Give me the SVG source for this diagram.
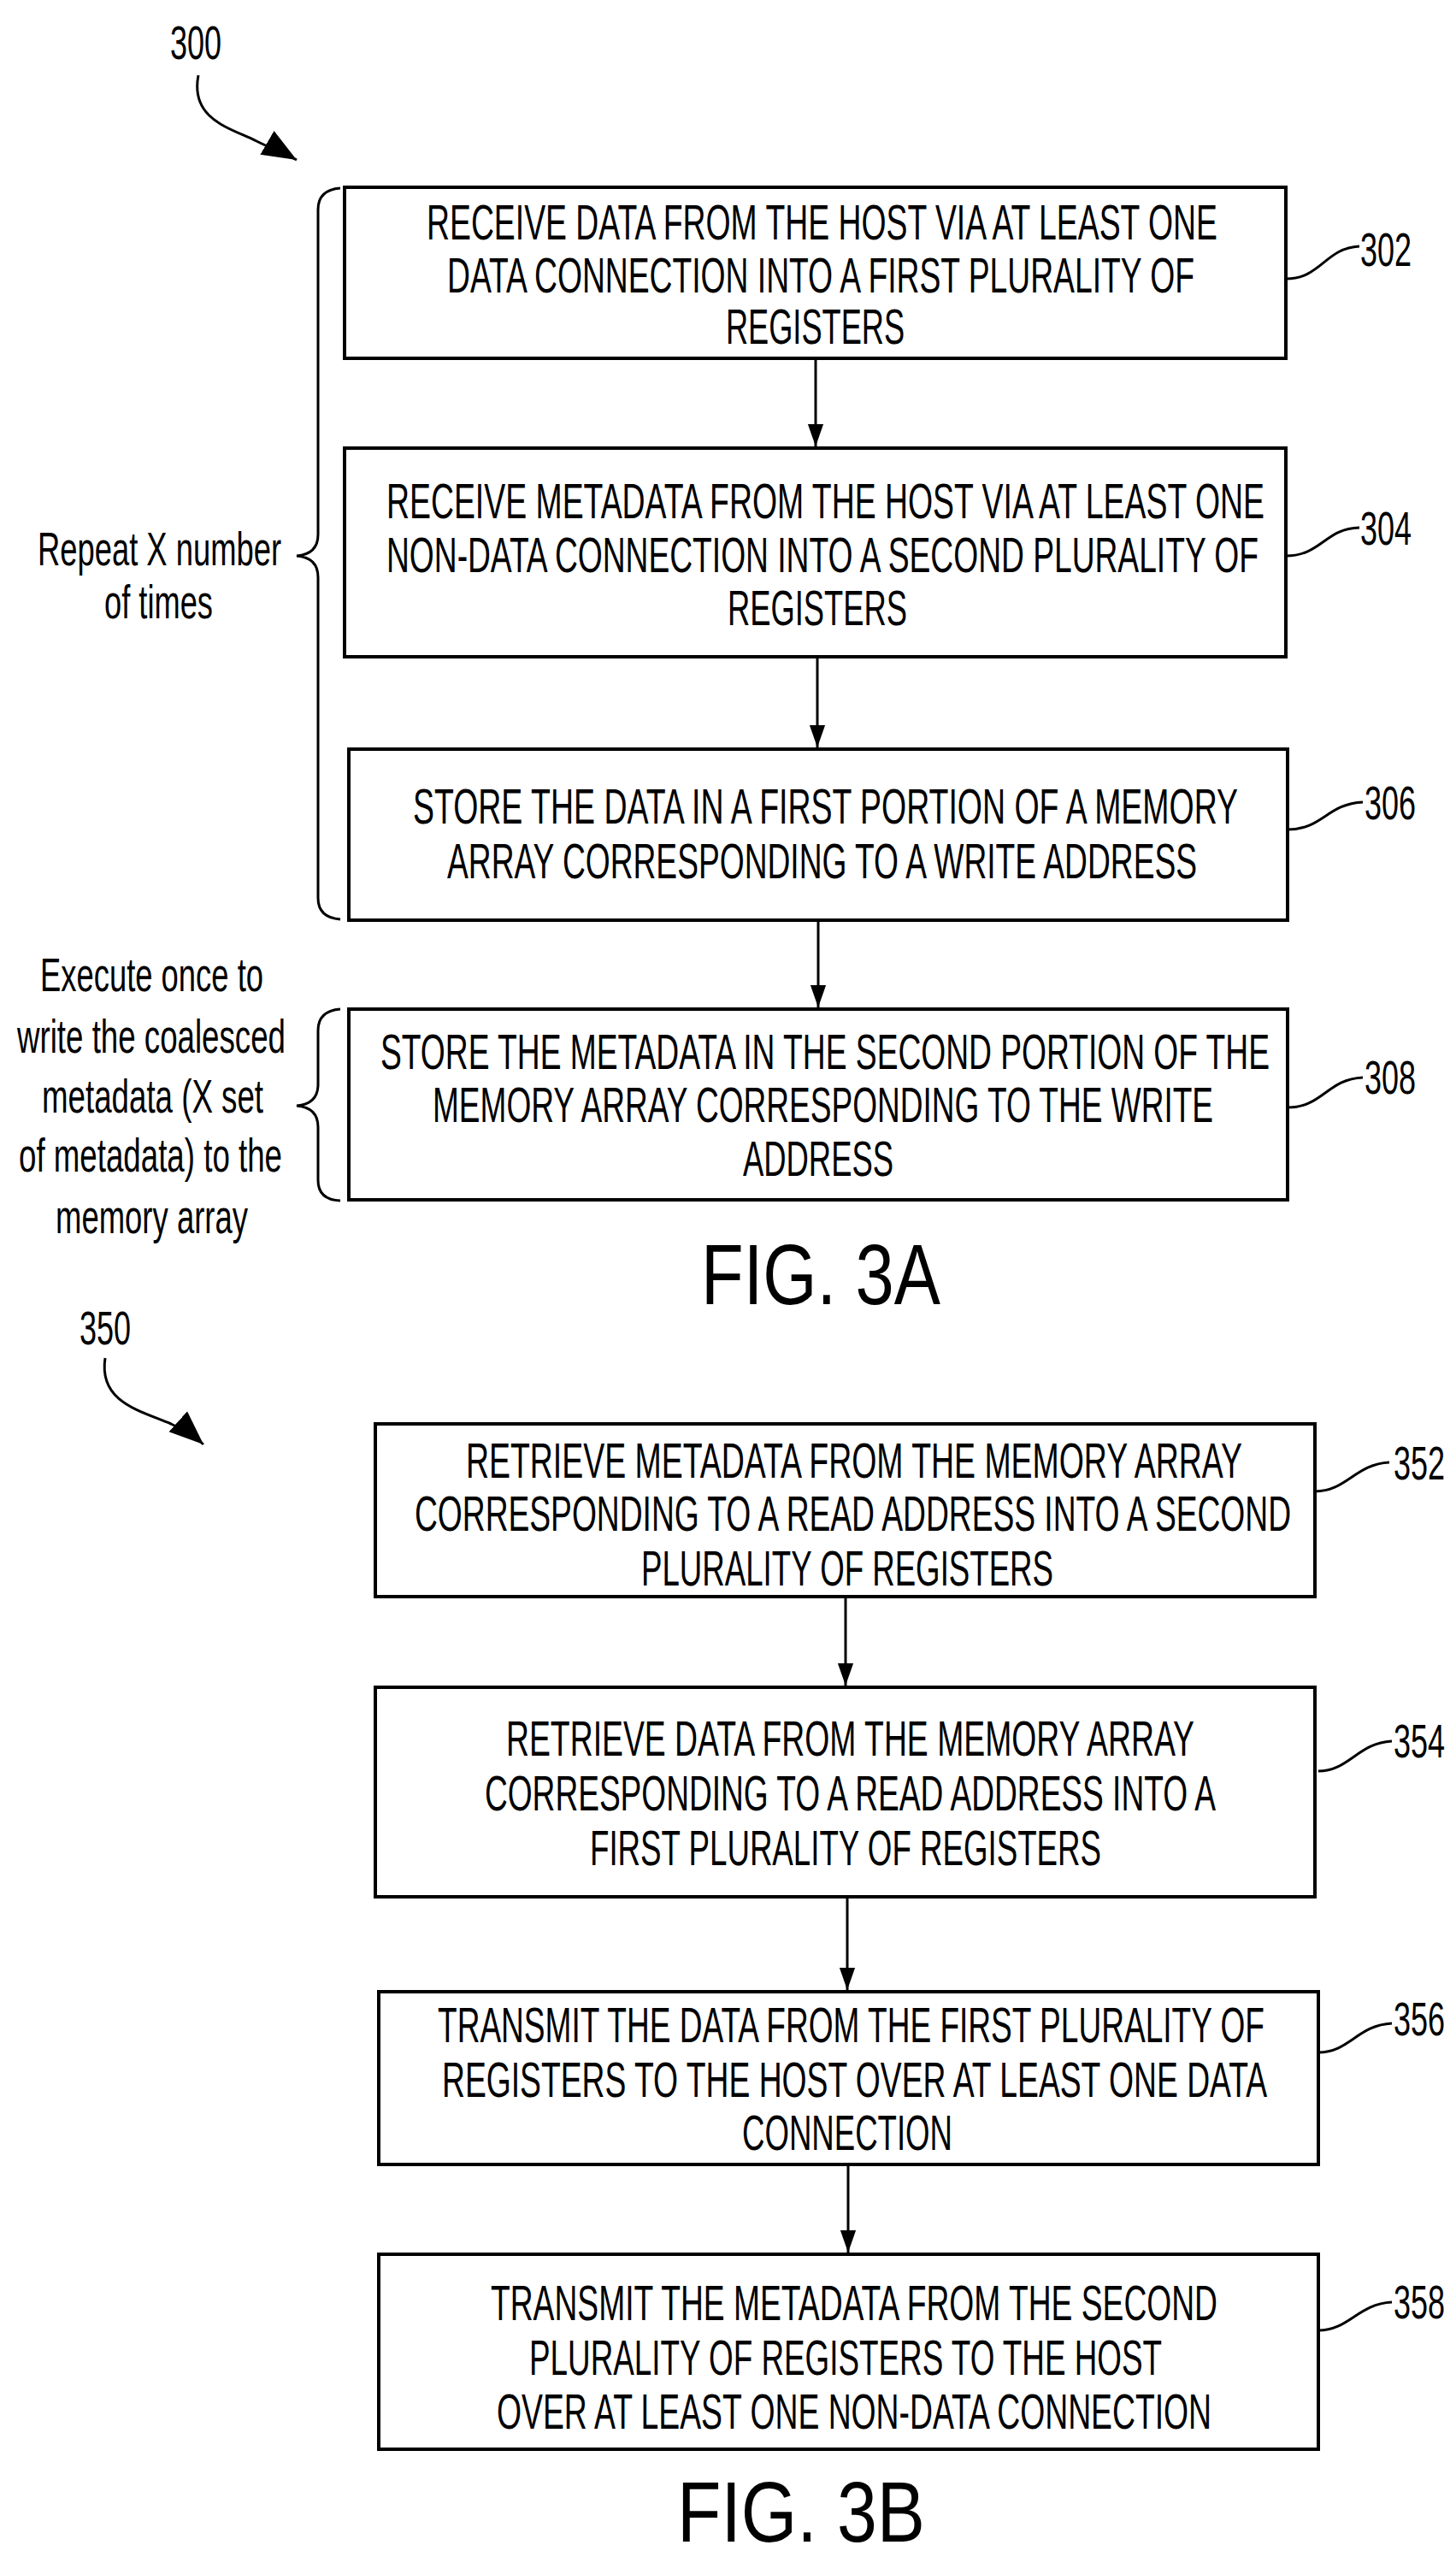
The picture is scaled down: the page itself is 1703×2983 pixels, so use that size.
<svg xmlns="http://www.w3.org/2000/svg" width="1703" height="2983" viewBox="0 0 1703 2983">
<style>
.b{fill:#fff;stroke:#000;stroke-width:4}
.t{font-family:"Liberation Sans",Arial,sans-serif;font-size:58px;fill:#000}
.l{font-family:"Liberation Sans",Arial,sans-serif;font-size:56px;fill:#000}
.f{font-family:"Liberation Sans",Arial,sans-serif;font-size:100px;fill:#000}
.c{fill:none;stroke:#000;stroke-width:3}
.a{fill:none;stroke:#000;stroke-width:3.5;marker-end:url(#ah)}
</style>
<defs><marker id="ah" viewBox="0 0 10 10" refX="10" refY="5" markerWidth="7" markerHeight="7" markerUnits="userSpaceOnUse" orient="auto"><path d="M0,0 L10,5 L0,10 z"/></marker>
<marker id="ah2" viewBox="0 0 10 10" refX="10" refY="5" markerWidth="40" markerHeight="40" markerUnits="userSpaceOnUse" orient="auto"><path d="M0,1 L10,5 L0,9 z"/></marker>
<marker id="ah3" viewBox="0 0 10 10" refX="10" refY="5" markerWidth="26" markerHeight="26" markerUnits="userSpaceOnUse" orient="auto"><path d="M0,1.5 L10,5 L0,8.5 z"/></marker></defs>

<g id="connectors">
<path d="M954,419 L954,522" class="c" marker-end="url(#ah3)"/>
<path d="M956,768 L956,874" class="c" marker-end="url(#ah3)"/>
<path d="M957,1076 L957,1178" class="c" marker-end="url(#ah3)"/>
<path d="M989,1867 L989,1971" class="c" marker-end="url(#ah3)"/>
<path d="M991,2218 L991,2327" class="c" marker-end="url(#ah3)"/>
<path d="M992,2531 L992,2634" class="c" marker-end="url(#ah3)"/>
<path d="M232,88 C222,140 270,150 300,165 C320,175 335,180 347,187" class="c" marker-end="url(#ah2)"/>
<path d="M123,1588 C115,1640 165,1650 200,1665 C215,1672 228,1680 238,1689" class="c" marker-end="url(#ah2)"/>
<path d="M1504,326 C1545,326 1550,290 1590,288" class="c"/>
<path d="M1504,650 C1545,650 1550,618 1590,617" class="c"/>
<path d="M1506,970 C1547,970 1552,940 1594,938" class="c"/>
<path d="M1506,1295 C1547,1295 1552,1262 1594,1260" class="c"/>
<path d="M1538,1744 C1575,1744 1585,1712 1625,1710" class="c"/>
<path d="M1542,2071 C1578,2071 1588,2038 1628,2036" class="c"/>
<path d="M1542,2400 C1578,2400 1588,2368 1628,2366" class="c"/>
<path d="M1542,2725 C1578,2725 1588,2694 1628,2692" class="c"/>
<path d="M398,220 Q372,222 372,245 L372,625 Q372,648 347,650 Q372,652 372,675 L372,1050 Q372,1073 398,1075" class="c" stroke-width="2"/>
<path d="M398,1180 Q372,1182 372,1205 L372,1268 Q372,1291 347,1293 Q372,1295 372,1318 L372,1380 Q372,1403 398,1404" class="c" stroke-width="2"/>
</g>

<g id="label300"><text class="l" x="199" y="69" textLength="60" lengthAdjust="spacingAndGlyphs">300</text></g>
<g id="label350"><text class="l" x="93" y="1572" textLength="60" lengthAdjust="spacingAndGlyphs">350</text></g>

<g id="n302"><rect class="b" x="403" y="219" width="1101" height="200"/>
<text class="t" x="499" y="280" textLength="925" lengthAdjust="spacingAndGlyphs">RECEIVE DATA FROM THE HOST VIA AT LEAST ONE</text>
<text class="t" x="523" y="342" textLength="874" lengthAdjust="spacingAndGlyphs">DATA CONNECTION INTO A FIRST PLURALITY OF</text>
<text class="t" x="849" y="402" textLength="209" lengthAdjust="spacingAndGlyphs">REGISTERS</text>
<text class="l" x="1591" y="311" textLength="60" lengthAdjust="spacingAndGlyphs">302</text></g>

<g id="n304"><rect class="b" x="403" y="524" width="1101" height="244"/>
<text class="t" x="452" y="606" textLength="1027" lengthAdjust="spacingAndGlyphs">RECEIVE METADATA FROM THE HOST VIA AT LEAST ONE</text>
<text class="t" x="452" y="669" textLength="1020" lengthAdjust="spacingAndGlyphs">NON-DATA CONNECTION INTO A SECOND PLURALITY OF</text>
<text class="t" x="851" y="731" textLength="210" lengthAdjust="spacingAndGlyphs">REGISTERS</text>
<text class="l" x="1591" y="637" textLength="60" lengthAdjust="spacingAndGlyphs">304</text></g>

<g id="n306"><rect class="b" x="408" y="876" width="1098" height="200"/>
<text class="t" x="483" y="963" textLength="965" lengthAdjust="spacingAndGlyphs">STORE THE DATA IN A FIRST PORTION OF A MEMORY</text>
<text class="t" x="523" y="1027" textLength="877" lengthAdjust="spacingAndGlyphs">ARRAY CORRESPONDING TO A WRITE ADDRESS</text>
<text class="l" x="1596" y="958" textLength="60" lengthAdjust="spacingAndGlyphs">306</text></g>

<g id="n308"><rect class="b" x="408" y="1180" width="1098" height="223"/>
<text class="t" x="445" y="1250" textLength="1040" lengthAdjust="spacingAndGlyphs">STORE THE METADATA IN THE SECOND PORTION OF THE</text>
<text class="t" x="506" y="1312" textLength="913" lengthAdjust="spacingAndGlyphs">MEMORY ARRAY CORRESPONDING TO THE WRITE</text>
<text class="t" x="869" y="1375" textLength="176" lengthAdjust="spacingAndGlyphs">ADDRESS</text>
<text class="l" x="1596" y="1279" textLength="60" lengthAdjust="spacingAndGlyphs">308</text></g>

<g id="repeat">
<text class="l" x="44" y="661" textLength="285" lengthAdjust="spacingAndGlyphs">Repeat X number</text>
<text class="l" x="122" y="723" textLength="127" lengthAdjust="spacingAndGlyphs">of times</text></g>
<g id="execute">
<text class="l" x="47" y="1159" textLength="261" lengthAdjust="spacingAndGlyphs">Execute once to</text>
<text class="l" x="20" y="1231" textLength="314" lengthAdjust="spacingAndGlyphs">write the coalesced</text>
<text class="l" x="49" y="1301" textLength="259" lengthAdjust="spacingAndGlyphs">metadata (X set</text>
<text class="l" x="22" y="1370" textLength="308" lengthAdjust="spacingAndGlyphs">of metadata) to the</text>
<text class="l" x="65" y="1442" textLength="225" lengthAdjust="spacingAndGlyphs">memory array</text></g>

<g id="fig3a"><text class="f" x="820" y="1525" textLength="280" lengthAdjust="spacingAndGlyphs">FIG. 3A</text></g>

<g id="n352"><rect class="b" x="439" y="1665" width="1099" height="202"/>
<text class="t" x="545" y="1728" textLength="908" lengthAdjust="spacingAndGlyphs">RETRIEVE METADATA FROM THE MEMORY ARRAY</text>
<text class="t" x="485" y="1790" textLength="1025" lengthAdjust="spacingAndGlyphs">CORRESPONDING TO A READ ADDRESS INTO A SECOND</text>
<text class="t" x="750" y="1854" textLength="482" lengthAdjust="spacingAndGlyphs">PLURALITY OF REGISTERS</text>
<text class="l" x="1630" y="1730" textLength="60" lengthAdjust="spacingAndGlyphs">352</text></g>

<g id="n354"><rect class="b" x="439" y="1973" width="1099" height="245"/>
<text class="t" x="592" y="2053" textLength="805" lengthAdjust="spacingAndGlyphs">RETRIEVE DATA FROM THE MEMORY ARRAY</text>
<text class="t" x="567" y="2117" textLength="855" lengthAdjust="spacingAndGlyphs">CORRESPONDING TO A READ ADDRESS INTO A</text>
<text class="t" x="690" y="2181" textLength="598" lengthAdjust="spacingAndGlyphs">FIRST PLURALITY OF REGISTERS</text>
<text class="l" x="1630" y="2055" textLength="60" lengthAdjust="spacingAndGlyphs">354</text></g>

<g id="n356"><rect class="b" x="443" y="2329" width="1099" height="202"/>
<text class="t" x="512" y="2388" textLength="967" lengthAdjust="spacingAndGlyphs">TRANSMIT THE DATA FROM THE FIRST PLURALITY OF</text>
<text class="t" x="517" y="2452" textLength="965" lengthAdjust="spacingAndGlyphs">REGISTERS TO THE HOST OVER AT LEAST ONE DATA</text>
<text class="t" x="868" y="2514" textLength="246" lengthAdjust="spacingAndGlyphs">CONNECTION</text>
<text class="l" x="1630" y="2380" textLength="60" lengthAdjust="spacingAndGlyphs">356</text></g>

<g id="n358"><rect class="b" x="443" y="2636" width="1099" height="228"/>
<text class="t" x="574" y="2713" textLength="850" lengthAdjust="spacingAndGlyphs">TRANSMIT THE METADATA FROM THE SECOND</text>
<text class="t" x="619" y="2777" textLength="740" lengthAdjust="spacingAndGlyphs">PLURALITY OF REGISTERS TO THE HOST</text>
<text class="t" x="581" y="2840" textLength="836" lengthAdjust="spacingAndGlyphs">OVER AT LEAST ONE NON-DATA CONNECTION</text>
<text class="l" x="1630" y="2711" textLength="60" lengthAdjust="spacingAndGlyphs">358</text></g>

<g id="fig3b"><text class="f" x="792" y="2972" textLength="290" lengthAdjust="spacingAndGlyphs">FIG. 3B</text></g>
</svg>
